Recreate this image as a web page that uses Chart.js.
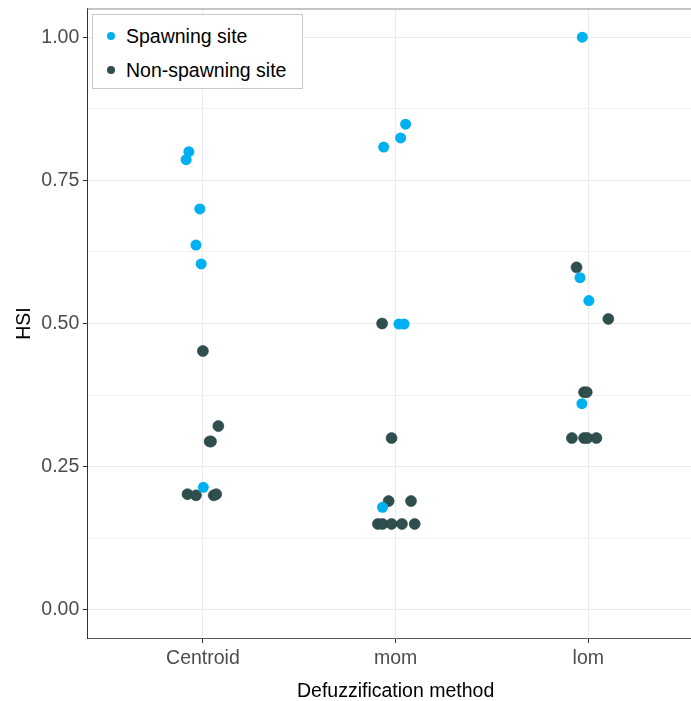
<!DOCTYPE html>
<html>
<head>
<meta charset="utf-8">
<script src="https://cdn.jsdelivr.net/npm/chart.js@4.4.1/dist/chart.umd.min.js"></script>
<style>
  html, body { margin: 0; padding: 0; background: #fff; }
  #wrap { position: relative; width: 691px; height: 701px; overflow: hidden; }
  #hsiChart { position: absolute; left: 0; top: 0; }
  #legend {
    position: absolute; left: 92px; top: 14px; width: 209px; height: 73px;
    border: 1px solid #c5cacf; background: #fff;
    font-family: "Liberation Sans", Arial, sans-serif; font-size: 19.5px; color: #000;
  }
  #legend .item { position: absolute; left: 0; height: 24px; line-height: 24px; white-space: nowrap; }
  #legend .dot { position: absolute; left: 14px; top: 8px; width: 8px; height: 8px; border-radius: 50%; }
  #legend .txt { position: absolute; left: 33px; top: 0; }
</style>
</head>
<body>
<div id="wrap">
  <canvas id="hsiChart" width="710" height="701"></canvas>
  <div id="legend"></div>
</div>
<script>
// categorias do eixo x (posicao 1, 2, 3)
const methods = ['Centroid', 'mom', 'lom'];
const yTicks = [0, 0.125, 0.25, 0.375, 0.5, 0.625, 0.75, 0.875, 1.0];
const yTickLabels = ['0.00', '', '0.25', '', '0.50', '', '0.75', '', '1.00'];

// pontos com jitter
const spawnX = [0.927, 0.913, 0.984, 0.964, 0.991, 1.002,
                2.052, 2.026, 1.938, 2.017, 2.044, 1.932,
                2.969, 2.957, 3.003, 2.967];
const spawnY = [0.800, 0.786, 0.700, 0.637, 0.604, 0.214,
                0.848, 0.824, 0.808, 0.499, 0.499, 0.179,
                1.000, 0.580, 0.540, 0.360];

const nonX = [1.000, 1.080, 1.035, 1.042, 0.920, 0.964, 1.056, 1.069,
              1.930, 1.979, 1.964, 2.080, 1.908, 1.932, 1.979, 2.033, 2.099,
              2.939, 3.104, 2.978, 2.992, 2.915, 2.978, 2.995, 3.042];
const nonY = [0.452, 0.321, 0.294, 0.294, 0.202, 0.200, 0.200, 0.202,
              0.500, 0.300, 0.190, 0.190, 0.150, 0.150, 0.150, 0.150, 0.150,
              0.598, 0.508, 0.380, 0.380, 0.300, 0.300, 0.300, 0.300];

const seriesNames = ['Spawning site', 'Non-spawning site'];
const seriesColors = ['#00B0F0', '#2F4F4F'];

function toPoints(xs, ys) {
    return xs.map((x, i) => ({ x: x, y: ys[i] }));
}

function noPadding(scale) {
    scale.paddingTop = 0;
    scale.paddingBottom = 0;
    scale.paddingLeft = 0;
    scale.paddingRight = 0;
}

const fontFamily = "'Liberation Sans', Arial, sans-serif";

// borda superior do painel
const panelBorder = {
    id: 'panelBorder',
    afterDraw(chart) {
        const a = chart.chartArea;
        const ctx = chart.ctx;
        ctx.save();
        ctx.strokeStyle = '#8a8a8a';
        ctx.lineWidth = 1;
        ctx.beginPath();
        ctx.moveTo(a.left, a.top + 0.5);
        ctx.lineTo(a.right, a.top + 0.5);
        ctx.stroke();
        ctx.restore();
    }
};

const ctx = document.getElementById('hsiChart').getContext('2d');
const chart = new Chart(ctx, {
    type: 'scatter',
    data: {
        datasets: [
            {
                label: seriesNames[0],
                data: toPoints(spawnX, spawnY),
                backgroundColor: seriesColors[0],
                borderColor: seriesColors[0],
                borderWidth: 0,
                pointRadius: 5.5,
                pointHoverRadius: 5.5
            },
            {
                label: seriesNames[1],
                data: toPoints(nonX, nonY),
                backgroundColor: seriesColors[1],
                borderColor: '#283f3f',
                borderWidth: 0.6,
                pointRadius: 5.5,
                pointHoverRadius: 5.5
            }
        ]
    },
    options: {
        responsive: false,
        animation: false,
        layout: { padding: { top: 8.5, right: 0, left: 0, bottom: 0 } },
        plugins: {
            legend: { display: false },
            tooltip: { enabled: false }
        },
        scales: {
            x: {
                type: 'linear',
                min: 0.4,
                max: 3.6,
                afterBuildTicks: function (scale) {
                    scale.ticks = methods.map((m, i) => ({ value: i + 1 }));
                },
                afterFit: function (scale) { scale.height = 62.5; noPadding(scale); },
                ticks: {
                    autoSkip: false,
                    maxRotation: 0,
                    padding: 3.5,
                    color: '#4d4d4d',
                    font: { family: fontFamily, size: 19.5 },
                    callback: function (value) {
                        return methods[Math.round(value) - 1] || '';
                    }
                },
                grid: {
                    color: '#ebebeb',
                    lineWidth: 1,
                    tickLength: 4.5,
                    tickColor: '#333333'
                },
                border: { display: true, color: '#5a5a5a', width: 1 },
                title: {
                    display: true,
                    text: 'Defuzzification method',
                    color: '#000',
                    font: { family: fontFamily, size: 19.5, lineHeight: 1 },
                    padding: { top: 0, bottom: 0 }
                }
            },
            y: {
                min: -0.05,
                max: 1.05,
                afterBuildTicks: function (scale) {
                    scale.ticks = yTicks.map(v => ({ value: v }));
                },
                afterFit: function (scale) { scale.width = 87.3; noPadding(scale); },
                ticks: {
                    autoSkip: false,
                    padding: 3.5,
                    color: '#4d4d4d',
                    font: { family: fontFamily, size: 19.5 },
                    callback: function (value) {
                        const i = yTicks.findIndex(t => Math.abs(t - value) < 1e-9);
                        return i >= 0 ? yTickLabels[i] : '';
                    }
                },
                grid: {
                    color: function (c) {
                        return (c.tick && yTickLabels[c.index] === '') ? '#f2f2f2' : '#ebebeb';
                    },
                    lineWidth: 1,
                    tickLength: 4.5,
                    tickColor: function (c) {
                        return (c.tick && yTickLabels[c.index] === '') ? 'rgba(0,0,0,0)' : '#333333';
                    }
                },
                border: { display: true, color: '#333333', width: 1 },
                title: {
                    display: true,
                    text: 'HSI',
                    color: '#000',
                    font: { family: fontFamily, size: 19.5, lineHeight: 1 },
                    padding: { top: 15, bottom: 0 }
                }
            }
        }
    },
    plugins: [panelBorder]
});

// legenda dentro do painel
const legendEl = document.getElementById('legend');
chart.data.datasets.forEach(function (ds, i) {
    const item = document.createElement('div');
    item.className = 'item';
    item.style.top = (9 + i * 34) + 'px';
    item.innerHTML = '<span class="dot" style="background:' + ds.backgroundColor + '"></span>' +
                     '<span class="txt">' + ds.label + '</span>';
    legendEl.appendChild(item);
});
</script>
</body>
</html>
